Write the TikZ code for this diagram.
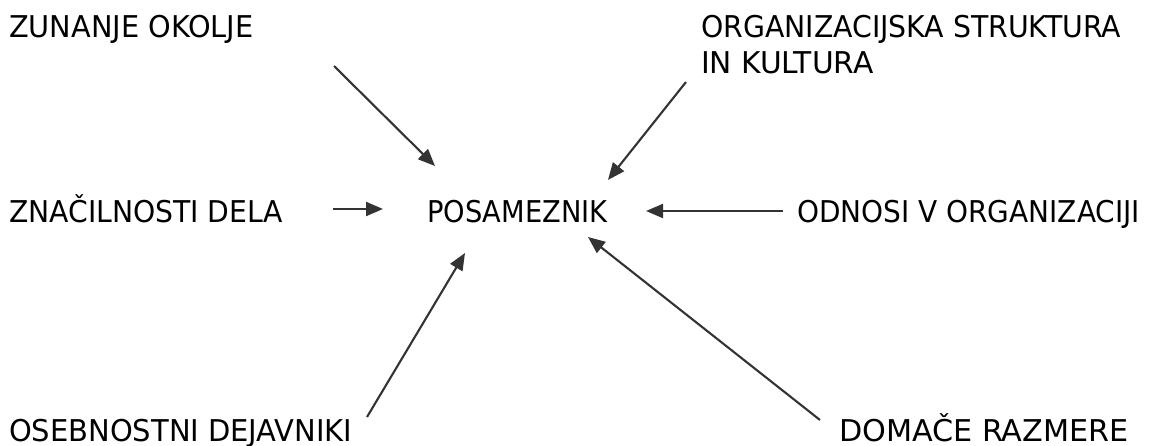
\documentclass[tikz,border=0pt]{standalone}
\usepackage{fontspec}
\setmainfont{DejaVu Sans Condensed}
\usetikzlibrary{arrows.meta}
\tikzset{
  lbl/.style={anchor=base west, inner sep=0pt, font=\fontsize{30}{36}\selectfont, text=black},
  conn/.style={line width=2.1pt, draw=black!80, -{Triangle[length=17pt,width=14pt]}}
}
\begin{document}
\begin{tikzpicture}[x=1pt,y=-1pt]
\useasboundingbox (0,0) rectangle (1152,446);
\node[lbl] (zun) at (9,38) {\scalebox{1.066}[1]{ZUNANJE OKOLJE}};
\node[lbl] (org1) at (701,38) {\scalebox{1.05}[1]{ORGANIZACIJSKA STRUKTURA}};
\node[lbl] (org2) at (701,74) {\scalebox{1.10}[1]{IN KULTURA}};
\node[lbl] (zna) at (9,223) {\scalebox{1.046}[1]{ZNAČILNOSTI DELA}};
\node[lbl] (pos) at (427,223) {\scalebox{1.011}[1]{POSAMEZNIK}};
\node[lbl] (odn) at (797,223) {\scalebox{1.036}[1]{ODNOSI V ORGANIZACIJI}};
\node[lbl] (ose) at (9,441) {\scalebox{1.073}[1]{OSEBNOSTNI DEJAVNIKI}};
\node[lbl] (dom) at (839,441) {\scalebox{1.12}[1]{DOMAČE RAZMERE}};
% connector ends
\coordinate (zunS) at (334,66);   \coordinate (zunT) at (435,166);
\coordinate (orgS) at (686,82);   \coordinate (orgT) at (608,180);
\coordinate (znaS) at (333,209);  \coordinate (znaT) at (383,209);
\coordinate (odnS) at (783,211);  \coordinate (odnT) at (646,211);
\coordinate (oseS) at (367,417);  \coordinate (oseT) at (465,253);
\coordinate (domS) at (820,420);  \coordinate (domT) at (588,237);
\draw[conn] (zunS) -- (zunT);
\draw[conn] (orgS) -- (orgT);
\draw[conn] (znaS) -- (znaT);
\draw[conn] (odnS) -- (odnT);
\draw[conn] (oseS) -- (oseT);
\draw[conn] (domS) -- (domT);
\end{tikzpicture}
\end{document}
